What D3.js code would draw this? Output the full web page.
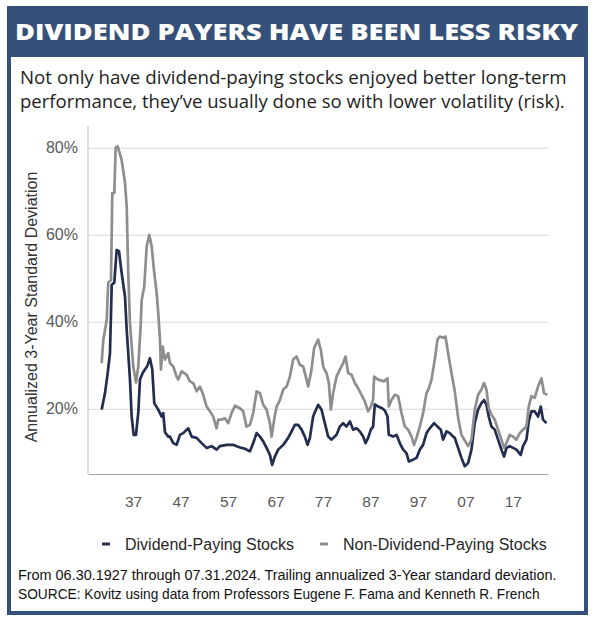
<!DOCTYPE html>
<html>
<head>
<meta charset="utf-8">
<script src="https://cdn.jsdelivr.net/npm/d3@7"></script>
<style>
  html, body { margin: 0; padding: 0; background: #ffffff; }
  svg { display: block; }
</style>
</head>
<body>
<div id="chart"></div>
<script>
// ---------- DATA ----------
const titleText = "DIVIDEND PAYERS HAVE BEEN LESS RISKY";
const subtitleLines = [
  "Not only have dividend-paying stocks enjoyed better long-term",
  "performance, they\u2019ve usually done so with lower volatility (risk)."
];
const yAxisTitle = "Annualized 3-Year Standard Deviation";
const seriesNames = ["Dividend-Paying Stocks", "Non-Dividend-Paying Stocks"];
const footnotes = [
  "From 06.30.1927 through 07.31.2024. Trailing annualized 3-Year standard deviation.",
  "SOURCE: Kovitz using data from Professors Eugene F. Fama and Kenneth R. French"
];
const xTickYears = [1937, 1947, 1957, 1967, 1977, 1987, 1997, 2007, 2017];
const xTickLabels = ["37", "47", "57", "67", "77", "87", "97", "07", "17"];
const yTickValues = [20, 40, 60, 80];
const xDomain = [1927.5, 2024.4];
const yDomain = [5, 85];

// Dividend-paying stocks: [year, annualized 3-yr std dev %]
const dividendPaying = [
  [1930.38,19.8],[1931.08,23.6],[1931.65,28.2],[1932.13,32.8],[1932.5,48.5],[1933.04,49],
  [1933.54,56.5],[1934.03,56.2],[1934.59,51.2],[1935.29,45.8],[1935.65,38.2],[1935.98,32.8],
  [1936.34,26.7],[1936.7,18.2],[1937.12,14],[1937.61,14],[1938.09,19.1],[1938.45,26.7],
  [1939.02,28.2],[1939.5,29],[1939.98,29.8],[1940.55,31.6],[1941.04,29],[1941.46,21.3],
  [1942.3,19.8],[1943.02,18.2],[1943.35,19],[1943.71,14.6],[1944.41,13.6],[1944.76,13.6],
  [1945.46,12.1],[1946.17,11.7],[1946.87,14],[1947.56,14.4],[1948.62,15.5],[1949.33,13.6],
  [1950.38,13.3],[1951.44,12.1],[1952.49,11],[1953.54,11.4],[1954.59,10.6],[1955.29,11.4],
  [1956.7,11.7],[1958.09,11.7],[1958.81,11.4],[1959.86,11],[1960.55,10.8],[1961.61,10.2],
  [1962.3,12.1],[1963.02,14.4],[1963.71,13.6],[1964.41,12.5],[1965.12,11],[1965.82,9.4],
  [1966.3,7.1],[1966.87,9],[1967.56,10.6],[1968.62,11.7],[1969.67,13.3],[1970.38,14.8],
  [1971.08,16.3],[1971.77,16.3],[1972.49,15.2],[1973.18,13.6],[1973.75,11.7],[1974.24,13.3],
  [1974.59,15.9],[1974.93,18.2],[1975.29,19.2],[1975.98,20.9],[1976.69,19.8],[1977.39,16.7],
  [1978.09,13.6],[1978.8,12.9],[1979.86,14],[1980.55,15.9],[1981.25,16.7],[1981.96,15.9],
  [1982.66,17.1],[1983.35,15.2],[1984.07,15.5],[1984.76,14.8],[1985.46,13.6],[1985.96,12.1],
  [1986.51,13.3],[1987.08,15.2],[1987.56,15.9],[1987.92,21],[1988.62,20.5],[1989.46,20.1],
  [1990.03,19.6],[1990.59,18.2],[1990.87,14],[1991.77,13.6],[1992.49,14],[1993.18,12.1],
  [1993.88,10.6],[1994.59,9.8],[1995.08,7.9],[1995.98,8.3],[1996.7,8.7],[1997.39,10.6],
  [1998.09,11.7],[1998.81,14.4],[1999.5,15.5],[2000.41,16.7],[2001.12,15.9],[2001.82,15.2],
  [2002.3,12.9],[2003.02,14.8],[2003.71,14.4],[2004.41,13.6],[2004.76,13.3],[2005.46,11],
  [2006.17,8.7],[2006.87,6.8],[2007.56,7.5],[2008.28,10.6],[2008.97,16.7],[2009.67,19.8],
  [2010.38,21.3],[2010.93,22],[2011.44,20.9],[2011.92,18.2],[2012.49,15.9],[2013.18,15.2],
  [2013.88,12.9],[2014.59,10.6],[2015.14,9],[2015.65,11],[2016.34,11.4],[2017.04,11],
  [2017.75,10.6],[2018.65,9.4],[2019.14,11.4],[2019.86,12.9],[2020.34,17.1],[2020.91,19.4],
  [2021.61,19.4],[2022.3,18.2],[2022.87,20.5],[2023.35,17.5],[2024.07,16.7]
];

// Non-dividend-paying stocks: [year, annualized 3-yr std dev %]
const nonDividendPaying = [
  [1930.38,30.5],[1930.72,35.8],[1931.44,40.4],[1931.77,49],[1932.34,49.6],[1932.62,69.6],
  [1933.04,69.6],[1933.33,80],[1933.75,80.3],[1934.59,77.2],[1935.29,72],[1935.65,66.5],
  [1935.98,51.2],[1936.34,39.7],[1937.04,29.7],[1937.61,26],[1938.09,29.7],[1938.59,38.9],
  [1938.81,45],[1939.35,48.1],[1939.86,57.3],[1940.41,60],[1940.91,57.3],[1941.46,51.2],
  [1941.96,46.7],[1942.3,42],[1942.66,35.9],[1942.87,29],[1943.23,34.3],[1943.71,31.3],
  [1944.41,32.8],[1944.76,30.5],[1945.46,29.7],[1946.17,27.4],[1946.51,26.7],[1947.23,28.6],
  [1948.28,27.8],[1948.97,26.3],[1949.67,25.9],[1950.38,24],[1951.08,25.1],[1951.77,23.2],
  [1952.49,20.5],[1953.18,19.4],[1953.88,18.2],[1954.59,15.5],[1954.93,17.5],[1955.65,17.5],
  [1956.34,17.8],[1957.04,16.7],[1957.75,19],[1958.45,20.7],[1959.5,20.1],[1960.19,19.4],
  [1960.91,15.9],[1961.61,16.3],[1962.3,19],[1963.02,24],[1963.71,23.6],[1964.41,20.9],
  [1965.12,19.8],[1965.82,16.7],[1966.17,13.6],[1966.72,17.5],[1967.23,20.5],[1967.92,22],
  [1968.62,24.4],[1969.33,25.1],[1970.03,27.4],[1970.72,31.3],[1971.44,32],[1972.13,30.1],
  [1972.83,29.7],[1973.54,26.7],[1973.88,25.1],[1974.59,29],[1975.14,34],[1975.98,35.9],
  [1976.55,33.5],[1977.04,29.7],[1977.75,28.2],[1978.24,25.9],[1978.66,19.8],[1979.14,23.6],
  [1979.86,27.4],[1980.55,29],[1981.25,30.5],[1981.75,32],[1982.3,28.2],[1983.02,27.8],
  [1983.71,25.9],[1984.41,24.7],[1985.12,23.2],[1985.82,21.7],[1986.51,19.4],[1987.08,20.5],
  [1987.56,22],[1987.77,27.4],[1988.62,26.7],[1989.88,26.3],[1990.59,27],[1990.87,20.5],
  [1991.44,22],[1992.13,23.2],[1992.83,22.9],[1993.54,19],[1994.24,15.9],[1994.93,15.2],
  [1995.65,13.6],[1996.19,11.7],[1996.7,13.3],[1997.39,15.9],[1998.09,19],[1998.81,23.6],
  [1999.29,24.7],[1999.86,26.7],[2000.55,31.3],[2001.12,35.9],[2001.61,36.6],[2002.3,36.3],
  [2002.81,36.6],[2003.35,32.8],[2004.07,28.2],[2004.76,24],[2005.46,18],[2006.17,14],
  [2006.87,12.7],[2007.56,11.4],[2008.28,12.9],[2008.97,19.8],[2009.67,23.2],[2010.38,24.4],
  [2010.93,25.9],[2011.44,24.4],[2011.92,20.1],[2012.49,18.6],[2013.18,17.5],[2013.88,15.2],
  [2014.59,12.9],[2015.14,11],[2015.65,12.1],[2016.34,14],[2017.04,13.6],[2017.75,12.9],
  [2018.45,14.4],[2019.14,15.2],[2019.86,15.9],[2020.34,20.5],[2020.91,22.9],[2021.61,22.5],
  [2022.3,25.1],[2023.02,27],[2023.56,23.6],[2024.28,23.2]
];

// ---------- STYLE ----------
const W = 596, H = 625;
const navy = "#35517a";
const divColor = "#222d4f";
const nonDivColor = "#8e8e8e";

const svg = d3.select("#chart").append("svg")
  .attr("width", W).attr("height", H);

svg.append("rect").attr("width", W).attr("height", H).attr("fill", "#fff");

// frame
svg.append("rect")
  .attr("x", 9).attr("y", 8).attr("width", 577).attr("height", 605)
  .attr("fill", "none").attr("stroke", navy).attr("stroke-width", 4);
svg.append("rect")
  .attr("x", 7).attr("y", 6).attr("width", 581).attr("height", 51)
  .attr("fill", navy);

function fitWidth(sel, target) {
  const len = sel.node().getComputedTextLength();
  const fs = parseFloat(sel.attr("font-size"));
  sel.attr("font-size", (fs * target / len).toFixed(2));
}

// title
svg.append("text")
  .attr("x", 15).attr("y", 40)
  .attr("font-family", "'Open Sans', 'Noto Sans', sans-serif")
  .attr("font-weight", 800)
  .attr("font-size", 22.5)
  .attr("fill", "#ffffff")
  .attr("textLength", 563)
  .attr("lengthAdjust", "spacingAndGlyphs")
  .text(titleText);

// subtitle
const subWidths = [547, 545];
subtitleLines.forEach((t, i) => {
  const s = svg.append("text")
    .attr("x", 20).attr("y", 84 + i * 24)
    .attr("font-family", "'Open Sans', 'Noto Sans', sans-serif")
    .attr("font-size", 17)
    .attr("fill", "#1e1e1e")
    .text(t);
  fitWidth(s, subWidths[i]);
});

// ---------- CHART ----------
const x = d3.scaleLinear().domain(xDomain).range([88, 548]);
const y = d3.scaleLinear().domain(yDomain).range([474, 126]);

const g = svg.append("g");

// gridlines
g.append("g")
  .attr("transform", "translate(88,0)")
  .call(d3.axisLeft(y).tickValues(yTickValues).tickSize(-460).tickFormat(""))
  .call(a => a.select(".domain").remove())
  .call(a => a.selectAll("line").attr("stroke", "#d9d9d9").attr("stroke-width", 1));

// y tick labels
g.append("g")
  .attr("transform", "translate(88,0)")
  .call(d3.axisLeft(y).tickValues(yTickValues).tickSize(0).tickPadding(10)
    .tickFormat(d => d + "%"))
  .call(a => a.select(".domain").remove())
  .call(a => a.selectAll("text")
    .attr("font-family", "'Liberation Sans', Arial, sans-serif")
    .attr("font-size", 16).attr("fill", "#595959"));

// x axis
g.append("g")
  .attr("transform", "translate(0,474)")
  .call(d3.axisBottom(x).tickValues(xTickYears).tickSize(0).tickPadding(22)
    .tickFormat((d, i) => xTickLabels[i]))
  .call(a => a.select(".domain").attr("stroke", "#a6a6a6").attr("stroke-width", 1.2))
  .call(a => a.selectAll("text")
    .attr("font-family", "'Liberation Sans', Arial, sans-serif")
    .attr("font-size", 15.5).attr("fill", "#595959"));

// y axis line
g.append("line")
  .attr("x1", 88).attr("x2", 88).attr("y1", y(yDomain[1])).attr("y2", y(yDomain[0]))
  .attr("stroke", "#bfbfbf").attr("stroke-width", 1);

// y axis title
g.append("text")
  .attr("transform", "translate(31,307) rotate(-90)")
  .attr("text-anchor", "middle")
  .attr("dominant-baseline", "central")
  .attr("font-family", "'Liberation Sans', Arial, sans-serif")
  .attr("font-size", 16).attr("fill", "#333333")
  .text(yAxisTitle);

// lines
const line = d3.line().x(d => x(d[0])).y(d => y(d[1]));
g.append("path").datum(dividendPaying)
  .attr("d", line).attr("fill", "none")
  .attr("stroke", divColor).attr("stroke-width", 2.7)
  .attr("stroke-linejoin", "round");
g.append("path").datum(nonDividendPaying)
  .attr("d", line).attr("fill", "none")
  .attr("stroke", nonDivColor).attr("stroke-width", 2.7)
  .attr("stroke-linejoin", "round");

// legend
const legendItems = [
  { name: seriesNames[0], color: divColor, x: 102 },
  { name: seriesNames[1], color: nonDivColor, x: 320 }
];
legendItems.forEach(it => {
  svg.append("line")
    .attr("x1", it.x).attr("x2", it.x + 8)
    .attr("y1", 544).attr("y2", 544)
    .attr("stroke", it.color).attr("stroke-width", 3);
  svg.append("text")
    .attr("x", it.x + 23).attr("y", 544)
    .attr("dominant-baseline", "central")
    .attr("font-family", "'Liberation Sans', Arial, sans-serif")
    .attr("font-size", 16).attr("fill", "#262626")
    .text(it.name);
});

// footnotes
const footWidths = [539, 522];
footnotes.forEach((t, i) => {
  const f = svg.append("text")
    .attr("x", 18).attr("y", 580 + i * 19)
    .attr("font-family", "'Liberation Sans', Arial, sans-serif")
    .attr("font-size", 13.5).attr("fill", "#111")
    .text(t);
  fitWidth(f, footWidths[i]);
});
</script>
</body>
</html>
